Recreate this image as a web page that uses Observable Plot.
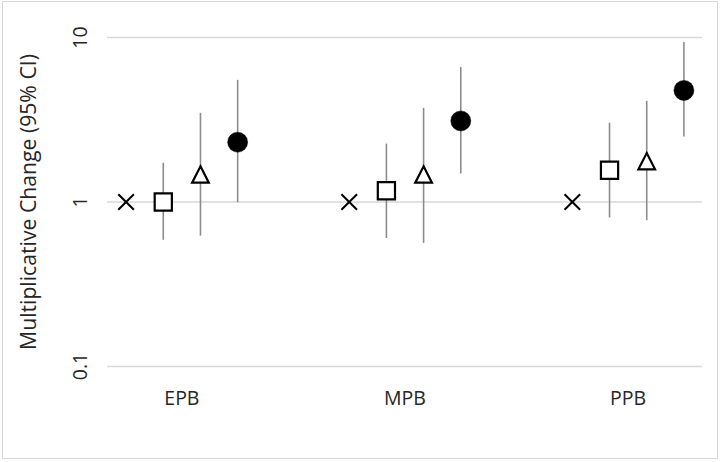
<!DOCTYPE html>
<html><head><meta charset="utf-8">
<script src="https://cdn.jsdelivr.net/npm/d3@7"></script>
<script src="https://cdn.jsdelivr.net/npm/@observablehq/plot@0.6"></script>
<style>
html,body{margin:0;padding:0;background:#fff;}
#wrap{position:relative;width:723px;height:462px;}
#chart svg{display:block;}
#frame{position:absolute;left:2px;top:1px;width:714px;height:456px;border:1px solid #d9d9d9;pointer-events:none;}
</style></head><body><div id="wrap"><div id="chart"></div><div id="frame"></div></div>
<script>
const categories = ["EPB", "MPB", "PPB"];
const seriesNames = ["cross", "square", "triangle", "circle"];
const crossEst = [1, 1, 1];
const squareEst = [1.00, 1.17, 1.56];
const squareLow = [0.585, 0.60, 0.80];
const squareHigh = [1.72, 2.25, 3.01];
const triangleEst = [1.47, 1.47, 1.77];
const triangleLow = [0.62, 0.56, 0.77];
const triangleHigh = [3.46, 3.71, 4.09];
const circleEst = [2.31, 3.11, 4.77];
const circleLow = [0.99, 1.48, 2.48];
const circleHigh = [5.49, 6.58, 9.33];
const yTicks = [0.1, 1, 10];
const yLabel = "Multiplicative Change (95% CI)";

const est = {cross: crossEst, square: squareEst, triangle: triangleEst, circle: circleEst};
const low = {cross: null, square: squareLow, triangle: triangleLow, circle: circleLow};
const high = {cross: null, square: squareHigh, triangle: triangleHigh, circle: circleHigh};

const gapSlots = 2;
const slotsPerGroup = seriesNames.length + gapSlots;
const rows = [];
categories.forEach((c, i) => {
  seriesNames.forEach((s, j) => {
    rows.push({
      category: c, series: s, slot: i * slotsPerGroup + j,
      est: est[s][i],
      low: low[s] ? low[s][i] : null,
      high: high[s] ? high[s][i] : null
    });
  });
});
const groupCenters = categories.map((c, i) => i * slotsPerGroup + (seriesNames.length - 1) / 2);
const lastSlot = (categories.length - 1) * slotsPerGroup + seriesNames.length - 1;

// custom symbols (Excel-like markers, centred on bounding box)
const symTimes = {draw(c, size) { const a = Math.sqrt(size) * 0.44; c.moveTo(-a, -a); c.lineTo(a, a); c.moveTo(a, -a); c.lineTo(-a, a); }};
const symSquare = {draw(c, size) { const a = Math.sqrt(size) * 0.485; c.rect(-a, -a, 2 * a, 2 * a); }};
const symTriangle = {draw(c, size) { const a = Math.sqrt(size) * 0.46; const w = Math.sqrt(size) * 0.47; c.moveTo(0, -a); c.lineTo(w, a); c.lineTo(-w, a); c.closePath(); }};

const bySeries = s => rows.filter(d => d.series === s);

const chart = Plot.plot({
  width: 723,
  height: 462,
  marginLeft: 107,
  marginRight: 21,
  marginTop: 37,
  marginBottom: 96,
  style: {fontFamily: "'Open Sans', sans-serif", fontSize: "19.5px", color: "#262626", background: "#ffffff"},
  x: {
    domain: [-0.5, lastSlot + 0.5],
    ticks: groupCenters,
    tickFormat: d => categories[groupCenters.indexOf(d)],
    tickSize: 0,
    tickPadding: 25,
    label: null
  },
  y: {
    type: "log",
    domain: [0.1, 10],
    ticks: yTicks,
    tickFormat: d => String(d),
    tickSize: 0,
    tickRotate: -90,
    tickPadding: 21,
    label: null
  },
  marks: [
    Plot.ruleY(yTicks, {stroke: "#d9d9d9", strokeWidth: 1.3}),
    Plot.ruleX(rows.filter(d => d.low != null), {x: "slot", y1: "low", y2: "high", stroke: "#8c8c8c", strokeWidth: 1.6}),
    Plot.dot(bySeries("cross"), {x: "slot", y: "est", r: 10, symbol: symTimes, stroke: "#000", fill: "none", strokeWidth: 2}),
    Plot.dot(bySeries("square"), {x: "slot", y: "est", r: 10, symbol: symSquare, stroke: "#000", fill: "#fff", strokeWidth: 2.2}),
    Plot.dot(bySeries("triangle"), {x: "slot", y: "est", r: 10, symbol: symTriangle, stroke: "#000", fill: "#fff", strokeWidth: 2.2}),
    Plot.dot(bySeries("circle"), {x: "slot", y: "est", r: 10, fill: "#000", stroke: "#000", strokeWidth: 0.5}),
    Plot.text([yLabel], {text: d => d, frameAnchor: "left", textAnchor: "middle", rotate: -90, dx: -78, fontSize: 21.2, fill: "#262626"})
  ]
});
document.getElementById("chart").appendChild(chart);
</script>
</body></html>
